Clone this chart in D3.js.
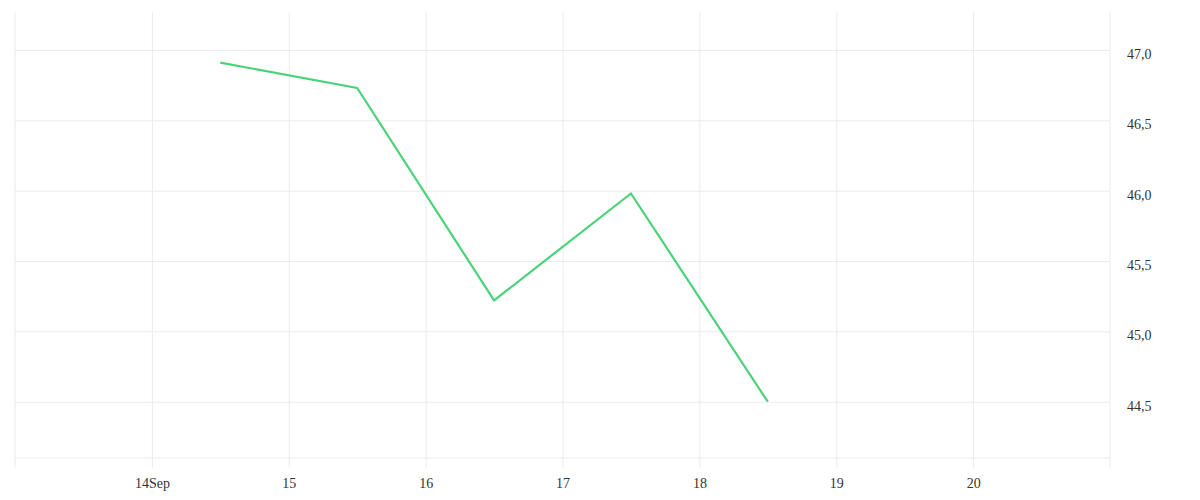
<!DOCTYPE html>
<html>
<head>
<meta charset="utf-8">
<script src="https://cdn.jsdelivr.net/npm/d3@7"></script>
<style>
  body { margin: 0; background: #fff; }
  svg { display: block; }
</style>
</head>
<body>
<div id="chart"></div>
<script>
// values
const dates = ["2023-09-14T12:00", "2023-09-15T12:00", "2023-09-16T12:00", "2023-09-17T12:00", "2023-09-18T12:00"];
const values = [46.91, 46.73, 45.22, 45.98, 44.50];
const xTickDates = ["2023-09-14", "2023-09-15", "2023-09-16", "2023-09-17", "2023-09-18", "2023-09-19", "2023-09-20"];
const xTickLabels = ["14Sep", "15", "16", "17", "18", "19", "20"];
const yTicks = [44.5, 45.0, 45.5, 46.0, 46.5, 47.0];

function drawChart (element) {
  const width = 1200, height = 500;
  const margin = {top: 12, right: 90, bottom: 42, left: 15};
  const parse = d3.timeParse("%Y-%m-%dT%H:%M");
  const parseDay = d3.timeParse("%Y-%m-%d");

  const data = dates.map((d, i) => ({date: parse(d), value: values[i]}));
  const tickDates = xTickDates.map(parseDay);

  const svg = d3.select(element).append("svg")
    .attr("width", width)
    .attr("height", height);

  const x = d3.scaleTime()
    .domain([parseDay("2023-09-13"), parseDay("2023-09-21")])
    .range([margin.left, width - margin.right]);

  const y = d3.scaleLinear()
    .domain([44.1, 47.27])
    .range([height - margin.bottom, margin.top]);

  const fmt = d3.formatLocale({decimal: ",", thousands: ".", grouping: [3], currency: ["", ""]}).format(".1f");
  const gridColor = "#ebebeb";
  const font = "'Liberation Serif', 'DejaVu Serif', serif";

  // horizontal gridlines + right labels
  const yAxis = svg.append("g")
    .attr("transform", `translate(${width - margin.right}, 0)`)
    .call(d3.axisRight(y).tickValues(yTicks).tickFormat(fmt)
      .tickSize(-(width - margin.left - margin.right)).tickPadding(17));
  yAxis.select(".domain").remove();
  yAxis.selectAll(".tick line").attr("stroke", gridColor);
  yAxis.selectAll(".tick text")
    .attr("dy", "0.6em")
    .style("font-family", font)
    .style("font-size", "14px")
    .attr("fill", "#333");

  // vertical gridlines + bottom labels
  const xAxis = svg.append("g")
    .attr("transform", `translate(0, ${height - margin.bottom + 10})`)
    .call(d3.axisBottom(x).tickValues(tickDates)
      .tickFormat((d, i) => xTickLabels[i])
      .tickSize(-(height - margin.bottom + 10 - margin.top)).tickPadding(10));
  xAxis.select(".domain").remove();
  xAxis.selectAll(".tick line").attr("stroke", gridColor);
  xAxis.selectAll(".tick text")
    .style("font-family", font)
    .style("font-size", "14px")
    .attr("fill", "#333");

  // frame edges: left and right borders, bottom line
  const edges = [x.domain()[0], x.domain()[1]];
  svg.append("g").selectAll("line").data(edges).join("line")
    .attr("x1", d => x(d)).attr("x2", d => x(d))
    .attr("y1", margin.top).attr("y2", height - margin.bottom + 10)
    .attr("stroke", gridColor);
  svg.append("line")
    .attr("x1", x.range()[0]).attr("x2", x.range()[1])
    .attr("y1", y.range()[0]).attr("y2", y.range()[0])
    .attr("stroke", gridColor);

  const line = d3.line().x(d => x(d.date)).y(d => y(d.value));
  svg.append("path")
    .datum(data)
    .attr("d", line)
    .attr("fill", "none")
    .attr("stroke", "#4cd27a")
    .attr("stroke-width", 2.2)
    .attr("stroke-linejoin", "miter");
}

drawChart(document.getElementById("chart"));
</script>
</body>
</html>
